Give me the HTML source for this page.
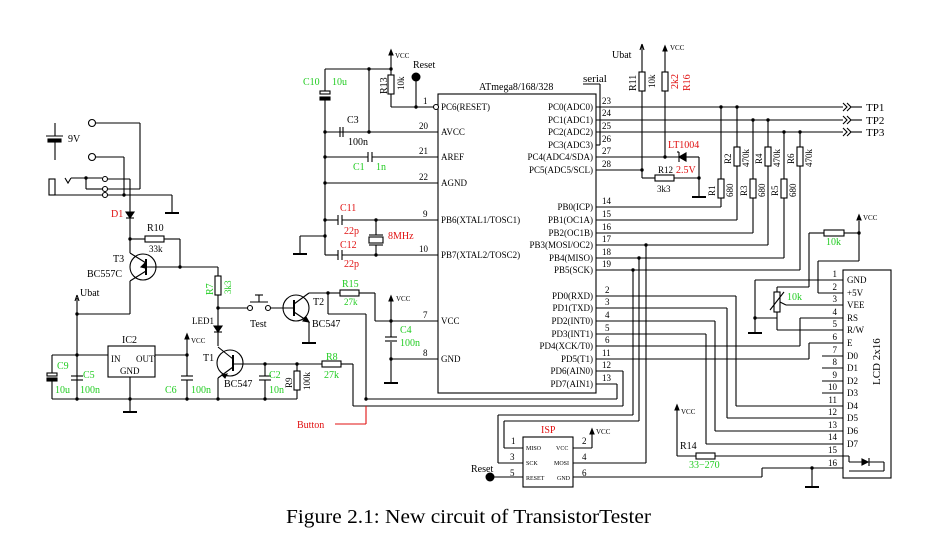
<!DOCTYPE html>
<html><head><meta charset="utf-8"><style>
html,body{margin:0;padding:0;background:#fff;}
svg{display:block;}
text{font-family:"Liberation Serif",serif;fill:#000;}
.g{fill:#22cc22;}
.r{fill:#e01010;}
.s{font-size:9px;}
.m{font-size:10px;}
.l{font-size:11px;}
</style></head><body>
<svg width="942" height="545" viewBox="0 0 942 545" xmlns="http://www.w3.org/2000/svg">
<g fill="none" stroke="#000" stroke-width="1.1">
<rect x="438" y="94" width="158" height="299"/>
<line x1="416" y1="107" x2="434" y2="107"/>
<circle cx="436" cy="107" r="2.5" fill="#fff"/>
<line x1="325" y1="132" x2="438" y2="132"/>
<line x1="325" y1="157" x2="368" y2="157"/><line x1="372" y1="157" x2="438" y2="157"/>
<line x1="325" y1="183" x2="438" y2="183"/>
<line x1="325" y1="220" x2="338" y2="220"/><line x1="342" y1="220" x2="438" y2="220"/>
<line x1="325" y1="255" x2="338" y2="255"/><line x1="342" y1="255" x2="438" y2="255"/>
<line x1="375" y1="321" x2="438" y2="321"/>
<line x1="391" y1="359" x2="438" y2="359"/>
<line x1="325" y1="69" x2="325" y2="92"/><line x1="325" y1="100" x2="325" y2="255"/>
<line x1="325" y1="69" x2="391" y2="69"/>
<line x1="369" y1="69" x2="369" y2="132"/>
<line x1="391" y1="50" x2="391" y2="75"/>
<line x1="391" y1="94" x2="391" y2="107"/><line x1="391" y1="107" x2="416" y2="107"/>
<line x1="416" y1="77" x2="416" y2="107"/>
<rect x="320" y="91" width="10" height="3" fill="#fff"/>
<rect x="320" y="97" width="10" height="3" fill="#000"/>
<line x1="340" y1="127" x2="340" y2="137"/><line x1="343" y1="127" x2="343" y2="137"/>
<line x1="368" y1="152" x2="368" y2="162"/><line x1="372" y1="152" x2="372" y2="162"/>
<line x1="338" y1="215" x2="338" y2="225"/><line x1="342" y1="215" x2="342" y2="225"/>
<line x1="338" y1="250" x2="338" y2="260"/><line x1="342" y1="250" x2="342" y2="260"/>
<line x1="376" y1="220" x2="376" y2="235"/><line x1="376" y1="245" x2="376" y2="255"/>
<line x1="369" y1="235" x2="383" y2="235"/><line x1="369" y1="245" x2="383" y2="245"/>
<rect x="369" y="237" width="14" height="6"/>
<line x1="325" y1="236" x2="300" y2="236"/><line x1="300" y1="236" x2="300" y2="254"/>
<line x1="293" y1="254" x2="307" y2="254" stroke-width="2"/>
<rect x="388" y="75" width="6" height="19" fill="#fff"/>
<path d="M391 50 l-2 5 h4z" fill="#000"/>
<line x1="596" y1="107" x2="843" y2="107"/>
<line x1="596" y1="120" x2="843" y2="120"/>
<line x1="596" y1="132" x2="843" y2="132"/>
<path d="M843 103 l4 4 l-4 4 M847 103 l4 4 l-4 4 M843 116 l4 4 l-4 4 M847 116 l4 4 l-4 4 M843 128 l4 4 l-4 4 M847 128 l4 4 l-4 4"/>
<line x1="851" y1="107" x2="862" y2="107"/><line x1="851" y1="120" x2="862" y2="120"/><line x1="851" y1="132" x2="862" y2="132"/>
<line x1="596" y1="145" x2="600" y2="145"/><line x1="600" y1="145" x2="600" y2="84"/><line x1="583" y1="84" x2="600" y2="84"/>
<line x1="596" y1="157" x2="679" y2="157"/>
<line x1="596" y1="170" x2="642" y2="170"/>
<line x1="642" y1="45" x2="642" y2="72"/><rect x="639" y="72" width="6" height="19" fill="#fff"/><line x1="642" y1="91" x2="642" y2="178"/>
<path d="M642 44 l-2 6 M642 44 l2 6"/>
<line x1="665" y1="48" x2="665" y2="72"/><rect x="662" y="72" width="6" height="19" fill="#fff"/><line x1="665" y1="91" x2="665" y2="157"/>
<path d="M665 46 l-2 5 h4z" fill="#000"/>
<line x1="642" y1="178" x2="655" y2="178"/><rect x="655" y="175" width="19" height="6" fill="#fff"/><line x1="674" y1="178" x2="699" y2="178"/>
<line x1="699" y1="157" x2="699" y2="197"/><line x1="692" y1="197" x2="706" y2="197" stroke-width="2"/>
<path d="M679 157 l7 -4 v8z" fill="#000"/><line x1="679" y1="152" x2="679" y2="162"/><line x1="679" y1="152" x2="677" y2="152"/>
<line x1="686" y1="157" x2="699" y2="157"/>
<line x1="721" y1="107" x2="721" y2="179"/><rect x="718" y="179" width="6" height="19" fill="#fff"/><line x1="721" y1="198" x2="721" y2="207"/><line x1="596" y1="207" x2="721" y2="207"/>
<line x1="737" y1="107" x2="737" y2="147"/><rect x="734" y="147" width="6" height="19" fill="#fff"/><line x1="737" y1="166" x2="737" y2="220"/><line x1="596" y1="220" x2="737" y2="220"/>
<line x1="753" y1="120" x2="753" y2="179"/><rect x="750" y="179" width="6" height="19" fill="#fff"/><line x1="753" y1="198" x2="753" y2="233"/><line x1="596" y1="233" x2="753" y2="233"/>
<line x1="768" y1="120" x2="768" y2="147"/><rect x="765" y="147" width="6" height="19" fill="#fff"/><line x1="768" y1="166" x2="768" y2="245"/><line x1="596" y1="245" x2="768" y2="245"/>
<line x1="784" y1="132" x2="784" y2="179"/><rect x="781" y="179" width="6" height="19" fill="#fff"/><line x1="784" y1="198" x2="784" y2="258"/><line x1="596" y1="258" x2="784" y2="258"/>
<line x1="800" y1="132" x2="800" y2="147"/><rect x="797" y="147" width="6" height="19" fill="#fff"/><line x1="800" y1="166" x2="800" y2="270"/><line x1="596" y1="270" x2="800" y2="270"/>
<line x1="646" y1="245" x2="646" y2="463"/><line x1="573" y1="463" x2="646" y2="463"/>
<line x1="639" y1="258" x2="639" y2="421"/><line x1="504" y1="421" x2="639" y2="421"/><line x1="504" y1="421" x2="504" y2="448"/><line x1="504" y1="448" x2="523" y2="448"/>
<line x1="633" y1="270" x2="633" y2="415"/><line x1="498" y1="415" x2="633" y2="415"/><line x1="498" y1="415" x2="498" y2="463"/><line x1="498" y1="463" x2="523" y2="463"/>
<rect x="523" y="437" width="50" height="50"/>
<line x1="573" y1="448" x2="592" y2="448"/><line x1="592" y1="448" x2="592" y2="432"/><path d="M592 429 l-2 5 h4z" fill="#000"/>
<line x1="490" y1="477" x2="523" y2="477"/>
<line x1="573" y1="477" x2="762" y2="477"/><line x1="762" y1="477" x2="762" y2="468"/><line x1="762" y1="468" x2="843" y2="468"/>
<line x1="812" y1="468" x2="812" y2="487"/><line x1="805" y1="487" x2="819" y2="487" stroke-width="2"/>
<line x1="596" y1="296" x2="736" y2="296"/><line x1="736" y1="296" x2="736" y2="406"/><line x1="736" y1="406" x2="843" y2="406"/>
<line x1="596" y1="308" x2="727" y2="308"/><line x1="727" y1="308" x2="727" y2="418"/><line x1="727" y1="418" x2="843" y2="418"/>
<line x1="596" y1="321" x2="715" y2="321"/><line x1="715" y1="321" x2="715" y2="431"/><line x1="715" y1="431" x2="843" y2="431"/>
<line x1="596" y1="334" x2="706" y2="334"/><line x1="706" y1="334" x2="706" y2="444"/><line x1="706" y1="444" x2="843" y2="444"/>
<line x1="596" y1="346" x2="800" y2="346"/><line x1="800" y1="346" x2="800" y2="318"/><line x1="800" y1="318" x2="843" y2="318"/>
<line x1="596" y1="359" x2="809" y2="359"/><line x1="809" y1="359" x2="809" y2="343"/><line x1="809" y1="343" x2="843" y2="343"/>
<line x1="596" y1="371" x2="623" y2="371"/><line x1="623" y1="371" x2="623" y2="406"/><line x1="353" y1="406" x2="623" y2="406"/>
<line x1="596" y1="384" x2="617" y2="384"/><line x1="617" y1="384" x2="617" y2="399"/><line x1="366" y1="399" x2="617" y2="399"/>
<rect x="843" y="270" width="48" height="208"/>
<line x1="755" y1="280" x2="843" y2="280"/><line x1="755" y1="280" x2="755" y2="333"/><line x1="748" y1="333" x2="762" y2="333" stroke-width="2"/>
<line x1="818" y1="293" x2="843" y2="293"/><line x1="818" y1="293" x2="818" y2="261"/><line x1="818" y1="261" x2="859" y2="261"/>
<line x1="859" y1="221" x2="859" y2="261"/><path d="M859 215 l-2 5 h4z" fill="#000"/>
<line x1="809" y1="233" x2="824" y2="233"/><rect x="824" y="230" width="20" height="6" fill="#fff"/><line x1="844" y1="233" x2="859" y2="233"/>
<line x1="809" y1="233" x2="809" y2="287"/><line x1="777" y1="287" x2="809" y2="287"/>
<line x1="777" y1="287" x2="777" y2="292"/><rect x="774" y="292" width="6" height="20" fill="#fff"/>
<line x1="770" y1="310" x2="784" y2="292"/>
<line x1="777" y1="312" x2="777" y2="330"/><line x1="755" y1="318" x2="777" y2="318"/>
<line x1="777" y1="330" x2="843" y2="330"/>
<line x1="780" y1="302" x2="786" y2="305"/><line x1="786" y1="305" x2="843" y2="305"/>
<line x1="822" y1="356" x2="843" y2="356"/><line x1="822" y1="368" x2="843" y2="368"/><line x1="822" y1="381" x2="843" y2="381"/><line x1="822" y1="393" x2="843" y2="393"/>
<line x1="677" y1="408" x2="677" y2="456"/><path d="M677 405 l-2 5 h4z" fill="#000"/>
<line x1="677" y1="456" x2="696" y2="456"/><rect x="696" y="453" width="19" height="6" fill="#fff"/><line x1="715" y1="456" x2="849" y2="456"/>
<line x1="849" y1="456" x2="849" y2="462"/><line x1="849" y1="462" x2="884" y2="462"/><line x1="884" y1="462" x2="884" y2="471"/><line x1="849" y1="471" x2="884" y2="471"/>
<path d="M862 459 v6 l6 -3z" fill="#000"/><line x1="869" y1="458" x2="869" y2="466"/>
<line x1="55" y1="123" x2="55" y2="136"/><line x1="46" y1="136" x2="63" y2="136"/><rect x="48" y="139" width="13" height="3" fill="#000"/><line x1="55" y1="142" x2="55" y2="160"/>
<circle cx="92" cy="123" r="3.5"/><circle cx="92" cy="157" r="3.5"/>
<line x1="96" y1="123" x2="140" y2="123"/><line x1="140" y1="123" x2="140" y2="189"/><line x1="108" y1="189" x2="140" y2="189"/>
<line x1="96" y1="157" x2="124" y2="157"/><line x1="124" y1="157" x2="124" y2="195"/>
<rect x="49" y="179" width="6" height="16"/>
<line x1="55" y1="195" x2="102" y2="195"/><line x1="108" y1="195" x2="172" y2="195"/><line x1="172" y1="195" x2="172" y2="213"/><line x1="165" y1="213" x2="179" y2="213" stroke-width="2"/>
<circle cx="105" cy="179" r="2.5"/><circle cx="105" cy="189" r="2.5"/><circle cx="105" cy="195" r="2.5"/>
<path d="M65 178 l3 5 l3 -5 M71 178 h31"/><line x1="86" y1="178" x2="86" y2="189"/><line x1="86" y1="189" x2="102" y2="189"/>
<line x1="108" y1="179" x2="130" y2="179"/><line x1="130" y1="179" x2="130" y2="239"/>
<path d="M126 212 h8 l-4 6z" fill="#000"/><line x1="126" y1="218" x2="134" y2="218"/>
<line x1="130" y1="239" x2="145" y2="239"/><rect x="145" y="236" width="19" height="6" fill="#fff"/><line x1="164" y1="239" x2="180" y2="239"/><line x1="180" y1="239" x2="180" y2="267"/>
<circle cx="143" cy="267" r="13"/><line x1="146" y1="259" x2="146" y2="275" stroke-width="2"/>
<line x1="146" y1="267" x2="218" y2="267"/>
<line x1="146" y1="263" x2="130" y2="253"/><line x1="130" y1="253" x2="130" y2="239"/>
<line x1="146" y1="271" x2="130" y2="281"/><line x1="130" y1="281" x2="130" y2="314"/>
<path d="M141 267 l5 -5 l-1 6z" fill="#000"/>
<line x1="77" y1="314" x2="130" y2="314"/><line x1="77" y1="298" x2="77" y2="399"/><path d="M77 295 l-2 6 M77 295 l2 6"/>
<line x1="218" y1="267" x2="218" y2="276"/><rect x="215" y="276" width="6" height="19" fill="#fff"/><line x1="218" y1="295" x2="218" y2="326"/>
<path d="M214 326 h8 l-4 6z" fill="#000"/><line x1="214" y1="332" x2="222" y2="332"/>
<line x1="218" y1="332" x2="218" y2="346"/>
<line x1="218" y1="308" x2="248" y2="308"/><circle cx="250" cy="308" r="2.5"/><circle cx="268" cy="308" r="2.5"/>
<line x1="250" y1="302" x2="268" y2="302"/><line x1="259" y1="295" x2="259" y2="302"/><line x1="255" y1="295" x2="263" y2="295"/>
<line x1="271" y1="308" x2="294" y2="308"/>
<circle cx="296" cy="308" r="13"/><line x1="294" y1="300" x2="294" y2="316" stroke-width="2"/>
<line x1="294" y1="304" x2="309" y2="293"/><line x1="309" y1="293" x2="328" y2="293"/>
<line x1="294" y1="312" x2="309" y2="322"/><path d="M309 322 l-6 -1 l3 -4z" fill="#000"/><line x1="309" y1="322" x2="309" y2="343"/><line x1="302" y1="343" x2="316" y2="343" stroke-width="2"/>
<line x1="328" y1="293" x2="340" y2="293"/><rect x="340" y="290" width="19" height="6" fill="#fff"/><line x1="359" y1="293" x2="375" y2="293"/><line x1="375" y1="293" x2="375" y2="321"/>
<line x1="328" y1="293" x2="328" y2="314"/><line x1="328" y1="314" x2="366" y2="314"/><line x1="366" y1="314" x2="366" y2="399"/>
<line x1="391" y1="300" x2="391" y2="337"/><line x1="391" y1="342" x2="391" y2="383"/><path d="M391 296 l-2 5 h4z" fill="#000"/>
<line x1="385" y1="337" x2="397" y2="337"/><line x1="385" y1="341" x2="397" y2="341"/><line x1="384" y1="383" x2="398" y2="383" stroke-width="2"/>
<circle cx="230" cy="363" r="13"/><line x1="233" y1="355" x2="233" y2="371" stroke-width="2"/>
<line x1="233" y1="359" x2="218" y2="347"/><line x1="233" y1="367" x2="218" y2="378"/><path d="M222 375 l5 -1 l-2 4z" fill="#000"/><line x1="218" y1="378" x2="218" y2="399"/>
<line x1="233" y1="364" x2="322" y2="364"/><rect x="322" y="361" width="19" height="6" fill="#fff"/><line x1="341" y1="364" x2="353" y2="364"/><line x1="353" y1="364" x2="353" y2="406"/>
<line x1="265" y1="364" x2="265" y2="376"/><line x1="259" y1="376" x2="271" y2="376"/><line x1="259" y1="380" x2="271" y2="380"/><line x1="265" y1="380" x2="265" y2="399"/>
<line x1="297" y1="364" x2="297" y2="371"/><rect x="294" y="371" width="6" height="19" fill="#fff"/><line x1="297" y1="390" x2="297" y2="399"/>
<line x1="52" y1="399" x2="297" y2="399"/>
<line x1="52" y1="355" x2="108" y2="355"/><line x1="155" y1="355" x2="187" y2="355"/>
<rect x="108" y="346" width="47" height="31"/>
<line x1="130" y1="377" x2="130" y2="412"/><line x1="123" y1="412" x2="137" y2="412" stroke-width="2"/>
<line x1="187" y1="338" x2="187" y2="376"/><line x1="187" y1="380" x2="187" y2="399"/><path d="M187 334 l-2 5 h4z" fill="#000"/>
<line x1="181" y1="376" x2="193" y2="376"/><line x1="181" y1="380" x2="193" y2="380"/>
<line x1="71" y1="376" x2="83" y2="376"/><line x1="71" y1="380" x2="83" y2="380"/>
<line x1="52" y1="355" x2="52" y2="373"/><rect x="47" y="373" width="10" height="3" fill="#fff"/><rect x="47" y="378" width="10" height="3" fill="#000"/><line x1="52" y1="381" x2="52" y2="399"/>
<line x1="335" y1="424" x2="366" y2="424" stroke="#e01010"/><line x1="366" y1="424" x2="366" y2="406" stroke="#e01010"/>
</g>
<g fill="#000">
<circle cx="369" cy="69" r="1.7"/><circle cx="391" cy="69" r="1.7"/><circle cx="416" cy="107" r="1.7"/><circle cx="416" cy="77" r="4.5"/>
<circle cx="325" cy="132" r="1.7"/><circle cx="369" cy="132" r="1.7"/><circle cx="325" cy="157" r="1.7"/><circle cx="325" cy="183" r="1.7"/><circle cx="325" cy="220" r="1.7"/><circle cx="325" cy="236" r="1.7"/><circle cx="376" cy="220" r="1.7"/><circle cx="376" cy="255" r="1.7"/>
<circle cx="642" cy="170" r="1.7"/><circle cx="665" cy="157" r="1.7"/><circle cx="699" cy="178" r="1.7"/>
<circle cx="721" cy="107" r="1.7"/><circle cx="737" cy="107" r="1.7"/><circle cx="753" cy="120" r="1.7"/><circle cx="768" cy="120" r="1.7"/><circle cx="784" cy="132" r="1.7"/><circle cx="800" cy="132" r="1.7"/>
<circle cx="646" cy="245" r="1.7"/><circle cx="639" cy="258" r="1.7"/><circle cx="633" cy="270" r="1.7"/>
<circle cx="490" cy="477" r="4.5"/><circle cx="812" cy="468" r="1.7"/><circle cx="859" cy="233" r="1.7"/><circle cx="755" cy="318" r="1.7"/>
<circle cx="124" cy="195" r="1.7"/><circle cx="86" cy="178" r="1.7"/><circle cx="130" cy="239" r="1.7"/><circle cx="180" cy="267" r="1.7"/><circle cx="218" cy="308" r="1.7"/>
<circle cx="77" cy="314" r="1.7"/><circle cx="77" cy="355" r="1.7"/><circle cx="187" cy="355" r="1.7"/>
<circle cx="77" cy="399" r="1.7"/><circle cx="130" cy="399" r="1.7"/><circle cx="187" cy="399" r="1.7"/><circle cx="218" cy="399" r="1.7"/><circle cx="265" cy="399" r="1.7"/>
<circle cx="265" cy="364" r="1.7"/><circle cx="297" cy="364" r="1.7"/><circle cx="328" cy="293" r="1.7"/><circle cx="391" cy="321" r="1.7"/><circle cx="391" cy="359" r="1.7"/><circle cx="366" cy="399" r="1.7"/>
</g>
<text x="479" y="90" class="m">ATmega8/168/328</text>
<g class="s">
<text x="441" y="110">PC6(RESET)</text><text x="441" y="135">AVCC</text><text x="441" y="160">AREF</text><text x="441" y="186">AGND</text>
<text x="441" y="223">PB6(XTAL1/TOSC1)</text><text x="441" y="258">PB7(XTAL2/TOSC2)</text><text x="441" y="324">VCC</text><text x="441" y="362">GND</text>
<text x="423" y="104">1</text><text x="419" y="129">20</text><text x="419" y="154">21</text><text x="419" y="180">22</text><text x="423" y="217">9</text><text x="419" y="252">10</text><text x="423" y="318">7</text><text x="423" y="356">8</text>
</g>
<g class="s" text-anchor="end">
<text x="593" y="110">PC0(ADC0)</text><text x="593" y="123">PC1(ADC1)</text><text x="593" y="135">PC2(ADC2)</text><text x="593" y="148">PC3(ADC3)</text><text x="593" y="160">PC4(ADC4/SDA)</text><text x="593" y="173">PC5(ADC5/SCL)</text>
<text x="593" y="210">PB0(ICP)</text><text x="593" y="223">PB1(OC1A)</text><text x="593" y="236">PB2(OC1B)</text><text x="593" y="248">PB3(MOSI/OC2)</text><text x="593" y="261">PB4(MISO)</text><text x="593" y="273">PB5(SCK)</text>
<text x="593" y="299">PD0(RXD)</text><text x="593" y="311">PD1(TXD)</text><text x="593" y="324">PD2(INT0)</text><text x="593" y="337">PD3(INT1)</text><text x="593" y="349">PD4(XCK/T0)</text><text x="593" y="362">PD5(T1)</text><text x="593" y="374">PD6(AIN0)</text><text x="593" y="387">PD7(AIN1)</text>
</g>
<g class="s">
<text x="602" y="104">23</text><text x="602" y="116">24</text><text x="602" y="129">25</text><text x="602" y="142">26</text><text x="602" y="154">27</text><text x="602" y="167">28</text>
<text x="602" y="204">14</text><text x="602" y="217">15</text><text x="602" y="230">16</text><text x="602" y="242">17</text><text x="602" y="255">18</text><text x="602" y="267">19</text>
<text x="605" y="293">2</text><text x="605" y="305">3</text><text x="605" y="318">4</text><text x="605" y="331">5</text><text x="605" y="343">6</text><text x="602" y="356">11</text><text x="602" y="368">12</text><text x="602" y="381">13</text>
</g>
<text x="583" y="82" class="l">serial</text>
<text x="866" y="111" class="l">TP1</text><text x="866" y="124" class="l">TP2</text><text x="866" y="136" class="l">TP3</text>
<text x="612" y="58" class="m">Ubat</text><text x="670" y="50" font-size="7" font-family="Liberation Sans,sans-serif">VCC</text>
<text transform="translate(636,91) rotate(-90)" class="m">R11</text><text transform="translate(655,88) rotate(-90)" class="s">10k</text>
<text transform="translate(678,89) rotate(-90)" class="m r">2k2</text><text transform="translate(690,91) rotate(-90)" class="m r">R16</text>
<text x="668" y="148" class="m r">LT1004</text><text x="676" y="173" class="m r">2.5V</text>
<text x="658" y="173" class="s">R12</text><text x="657" y="192" class="s">3k3</text>
<g class="s">
<text transform="translate(715,196) rotate(-90)">R1</text><text transform="translate(733,197) rotate(-90)">680</text>
<text transform="translate(731,164) rotate(-90)">R2</text><text transform="translate(749,167) rotate(-90)">470k</text>
<text transform="translate(747,196) rotate(-90)">R3</text><text transform="translate(765,197) rotate(-90)">680</text>
<text transform="translate(762,164) rotate(-90)">R4</text><text transform="translate(780,167) rotate(-90)">470k</text>
<text transform="translate(778,196) rotate(-90)">R5</text><text transform="translate(796,197) rotate(-90)">680</text>
<text transform="translate(794,164) rotate(-90)">R6</text><text transform="translate(812,167) rotate(-90)">470k</text>
</g>
<g class="s">
<text x="847" y="283">GND</text><text x="847" y="296">+5V</text><text x="847" y="308">VEE</text><text x="847" y="321">RS</text><text x="847" y="333">R/W</text><text x="847" y="346">E</text>
<text x="847" y="359">D0</text><text x="847" y="371">D1</text><text x="847" y="384">D2</text><text x="847" y="396">D3</text><text x="847" y="409">D4</text><text x="847" y="421">D5</text><text x="847" y="434">D6</text><text x="847" y="447">D7</text>
</g>
<g class="s" text-anchor="end">
<text x="837" y="277">1</text><text x="837" y="290">2</text><text x="837" y="302">3</text><text x="837" y="315">4</text><text x="837" y="327">5</text><text x="837" y="340">6</text><text x="837" y="353">7</text><text x="837" y="365">8</text><text x="837" y="378">9</text><text x="837" y="390">10</text><text x="837" y="403">11</text><text x="837" y="415">12</text><text x="837" y="428">13</text><text x="837" y="440">14</text><text x="837" y="453">15</text><text x="837" y="466">16</text>
</g>
<text transform="translate(880,385) rotate(-90)" class="l">LCD 2x16</text>
<text x="863" y="220" font-size="7" font-family="Liberation Sans,sans-serif">VCC</text>
<text x="826" y="245" class="m g">10k</text><text x="787" y="300" class="m g">10k</text>
<text x="680" y="449" class="m">R14</text><text x="689" y="468" class="m g">33−270</text>
<text x="681" y="414" font-size="7" font-family="Liberation Sans,sans-serif">VCC</text>
<text x="541" y="433" class="m r">ISP</text>
<g font-size="6"><text x="526" y="450">MISO</text><text x="556" y="450">VCC</text><text x="526" y="465">SCK</text><text x="554" y="465">MOSI</text><text x="526" y="480">RESET</text><text x="557" y="480">GND</text></g>
<g class="s"><text x="511" y="444">1</text><text x="582" y="444">2</text><text x="510" y="460">3</text><text x="582" y="460">4</text><text x="510" y="476">5</text><text x="582" y="476">6</text></g>
<text x="596" y="434" font-size="7" font-family="Liberation Sans,sans-serif">VCC</text>
<text x="471" y="472" class="m">Reset</text>
<text x="395" y="58" font-size="7" font-family="Liberation Sans,sans-serif">VCC</text>
<text x="413" y="68" class="m">Reset</text>
<text transform="translate(387,94) rotate(-90)" class="m">R13</text><text transform="translate(404,90) rotate(-90)" class="s">10k</text>
<text x="303" y="85" class="m g">C10</text><text x="332" y="85" class="m g">10u</text>
<text x="347" y="123" class="m">C3</text><text x="348" y="145" class="m">100n</text>
<text x="353" y="170" class="m g">C1</text><text x="376" y="170" class="m g">1n</text>
<text x="340" y="211" class="m r">C11</text><text x="344" y="234" class="m r">22p</text>
<text x="340" y="248" class="m r">C12</text><text x="344" y="267" class="m r">22p</text>
<text x="388" y="239" class="m r">8MHz</text>
<text x="68" y="142" class="m">9V</text>
<text x="111" y="217" class="m r">D1</text>
<text x="147" y="231" class="m">R10</text><text x="149" y="252" class="s">33k</text>
<text x="113" y="262" class="m">T3</text><text x="87" y="277" class="m">BC557C</text>
<text x="80" y="296" class="m">Ubat</text>
<text transform="translate(213,295) rotate(-90)" class="m g">R7</text><text transform="translate(231,294) rotate(-90)" class="s g">3k3</text>
<text x="192" y="324" class="s">LED1</text>
<text x="250" y="327" class="m">Test</text>
<text x="313" y="305" class="m">T2</text><text x="312" y="327" class="m">BC547</text>
<text x="342" y="287" class="m g">R15</text><text x="344" y="305" class="s g">27k</text>
<text x="396" y="301" font-size="7" font-family="Liberation Sans,sans-serif">VCC</text>
<text x="400" y="333" class="m g">C4</text><text x="400" y="346" class="m g">100n</text>
<text x="122" y="343" class="m">IC2</text>
<text x="111" y="362" class="s">IN</text><text x="136" y="362" class="s">OUT</text><text x="120" y="374" class="s">GND</text>
<text x="191" y="343" font-size="7" font-family="Liberation Sans,sans-serif">VCC</text>
<text x="203" y="361" class="m">T1</text><text x="224" y="387" class="m">BC547</text>
<text x="269" y="378" class="m g">C2</text><text x="269" y="393" class="m g">10n</text>
<text transform="translate(292,388) rotate(-90)" class="s">R9</text><text transform="translate(310,390) rotate(-90)" class="s">100k</text>
<text x="326" y="360" class="m g">R8</text><text x="324" y="378" class="m g">27k</text>
<text x="57" y="369" class="m g">C9</text><text x="55" y="393" class="m g">10u</text>
<text x="83" y="378" class="m g">C5</text><text x="80" y="393" class="m g">100n</text>
<text x="165" y="393" class="m g">C6</text><text x="191" y="393" class="m g">100n</text>
<text x="297" y="428" class="m r">Button</text>
<text x="286" y="523" font-size="20" textLength="365" lengthAdjust="spacingAndGlyphs">Figure 2.1: New circuit of TransistorTester</text>
</svg>
</body></html>
